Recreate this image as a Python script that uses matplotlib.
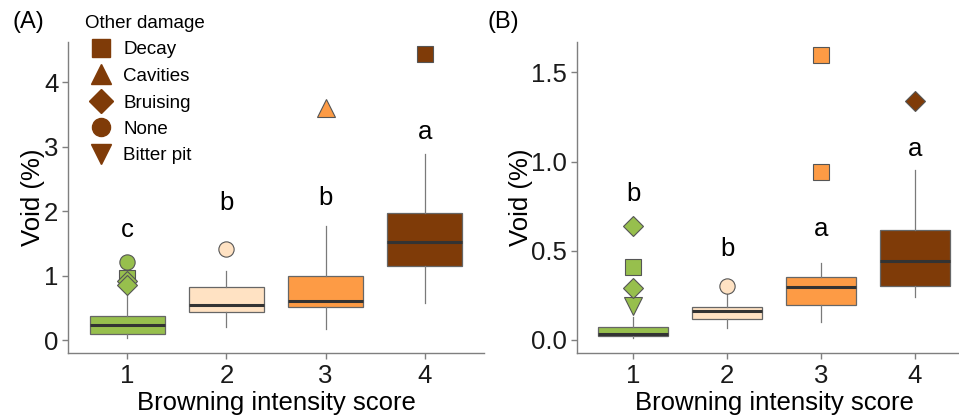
import matplotlib
matplotlib.use("Agg")
import matplotlib.pyplot as plt
from matplotlib.lines import Line2D

plt.rcParams['font.family'] = ['Liberation Sans', 'DejaVu Sans']

scores = [1, 2, 3, 4]
fills = ['#97BF4D', '#FFE2C3', '#FD9B45', '#7F3B08']

damage_types = ['Decay', 'Cavities', 'Bruising', 'None', 'Bitter pit']
damage_markers = {'Decay': 's', 'Cavities': '^', 'Bruising': 'D', 'None': 'o', 'Bitter pit': 'v'}
marker_sizes = {'s': 11, '^': 13, 'D': 10, 'o': 11, 'v': 13}

# panel A
a_q1 = [0.09, 0.44, 0.51, 1.15]
a_med = [0.23, 0.54, 0.60, 1.52]
a_q3 = [0.37, 0.82, 1.00, 1.97]
a_lo = [0.03, 0.21, 0.17, 0.57]
a_hi = [0.70, 1.07, 1.77, 2.88]
a_out_score = [1, 1, 1, 1, 2, 3, 4]
a_out_val = [1.21, 0.96, 0.92, 0.85, 1.41, 3.59, 4.43]
a_out_dmg = ['None', 'Decay', 'Bruising', 'Bruising', 'None', 'Cavities', 'Decay']
a_letters = ['c', 'b', 'b', 'a']
a_letter_y = [1.70, 2.12, 2.20, 3.23]

# panel B
b_q1 = [0.024, 0.116, 0.196, 0.304]
b_med = [0.032, 0.164, 0.299, 0.443]
b_q3 = [0.075, 0.187, 0.355, 0.616]
b_lo = [0.01, 0.066, 0.103, 0.243]
b_hi = [0.13, 0.258, 0.43, 0.952]
b_out_score = [1, 1, 1, 1, 2, 3, 3, 4]
b_out_val = [0.19, 0.29, 0.41, 0.64, 0.304, 0.94, 1.597, 1.34]
b_out_dmg = ['Bitter pit', 'Bruising', 'Decay', 'Bruising', 'None', 'Decay', 'Decay', 'Bruising']
b_letters = ['b', 'b', 'a', 'a']
b_letter_y = [0.82, 0.51, 0.62, 1.07]

FS = 18.5


def draw_panel(ax, q1, med, q3, lo, hi, out_s, out_v, out_d, letters, letter_y, ylim, yticks, yticklabels):
    stats = []
    for i in range(len(scores)):
        stats.append({'q1': q1[i], 'med': med[i], 'q3': q3[i],
                      'whislo': lo[i], 'whishi': hi[i], 'fliers': []})
    bp = ax.bxp(stats, positions=scores, widths=0.75, patch_artist=True,
                showcaps=False, showfliers=False,
                boxprops=dict(edgecolor='#666666', linewidth=0.9),
                whiskerprops=dict(color='#7a7a7a', linewidth=0.9),
                medianprops=dict(color='#333333', linewidth=2.2))
    for patch, c in zip(bp['boxes'], fills):
        patch.set_facecolor(c)

    for s, v, d in zip(out_s, out_v, out_d):
        m = damage_markers[d]
        ax.plot(s, v, marker=m, markersize=marker_sizes[m], color=fills[s - 1],
                markeredgecolor='#555555', markeredgewidth=0.8, linestyle='none', zorder=4)

    for s, t, y in zip(scores, letters, letter_y):
        ax.text(s, y, t, ha='center', va='center', fontsize=FS, color='black')

    ax.set_xlim(0.4, 4.6)
    ax.set_ylim(*ylim)
    ax.set_xticks(scores)
    ax.set_xticklabels([str(s) for s in scores])
    ax.set_yticks(yticks)
    ax.set_yticklabels(yticklabels)
    for side in ['top', 'right']:
        ax.spines[side].set_visible(False)
    for side in ['left', 'bottom']:
        ax.spines[side].set_color('#7f7f7f')
        ax.spines[side].set_linewidth(1.0)
    ax.tick_params(colors='#7f7f7f', labelcolor='#1a1a1a', labelsize=FS, length=4, width=1.0)
    ax.tick_params(axis='x', pad=4)
    ax.tick_params(axis='y', pad=3)
    ax.set_xlabel('Browning intensity score', fontsize=FS, labelpad=2)
    ax.set_ylabel('Void (%)', fontsize=FS, labelpad=-1)


fig = plt.figure(figsize=(9.59, 4.18), dpi=100)
ax_a = fig.add_axes([68 / 959, 65 / 418, 416 / 959, 311 / 418])
ax_b = fig.add_axes([577 / 959, 65 / 418, 394 / 959, 311 / 418])

draw_panel(ax_a, a_q1, a_med, a_q3, a_lo, a_hi, a_out_score, a_out_val, a_out_dmg,
           a_letters, a_letter_y, (-0.2, 4.62), [0, 1, 2, 3, 4], ['0', '1', '2', '3', '4'])
draw_panel(ax_b, b_q1, b_med, b_q3, b_lo, b_hi, b_out_score, b_out_val, b_out_dmg,
           b_letters, b_letter_y, (-0.073, 1.67), [0, 0.5, 1.0, 1.5], ['0.0', '0.5', '1.0', '1.5'])

# legend for the damage shapes, title drawn separately
handles = [Line2D([], [], marker=damage_markers[d], markersize=marker_sizes[damage_markers[d]] + 2,
                  color='#7F3B08', linestyle='none') for d in damage_types]
leg = ax_a.legend(handles, damage_types, loc='upper left',
                  bbox_to_anchor=(80 / 959, 1 - 32 / 418), bbox_transform=fig.transFigure,
                  frameon=False, fontsize=13.5, handlelength=1.2,
                  handletextpad=0.6, labelspacing=0.5, borderpad=0.0)
fig.text(85 / 959, 1 - 23 / 418, 'Other damage', fontsize=13.5, va='center', ha='left')

fig.text(12 / 959, 1 - 22 / 418, '(A)', fontsize=17, va='center', ha='left')
fig.text(487 / 959, 1 - 22 / 418, '(B)', fontsize=17, va='center', ha='left')

fig.savefig('out.png', dpi=100)
